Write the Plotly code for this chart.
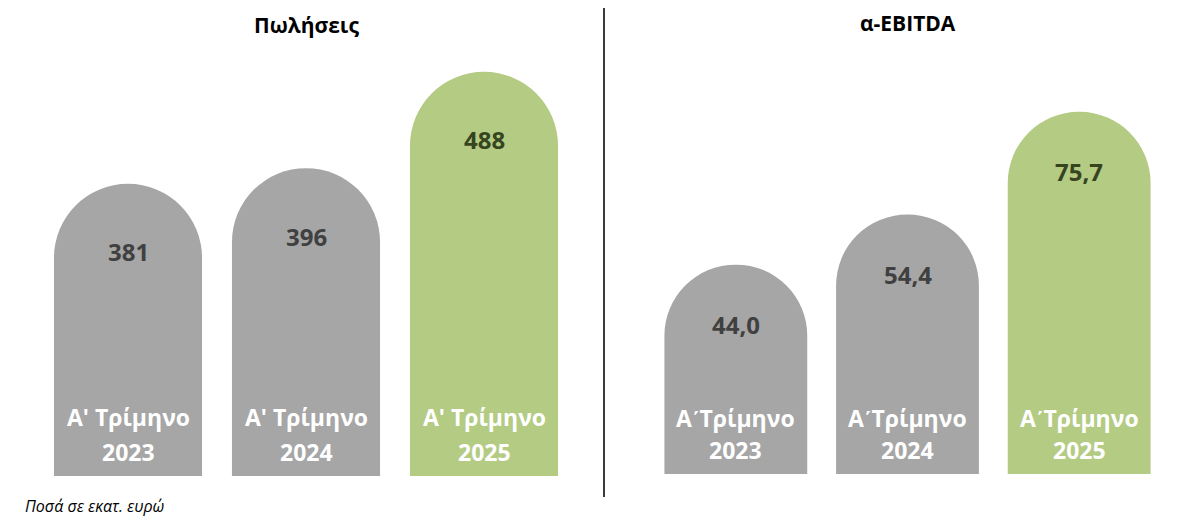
import plotly.graph_objects as go

# ---- data ----
years = ["2023", "2024", "2025"]
sales_quarter_label = "Α' Τρίμηνο"
ebitda_quarter_label = "Α\u0374Τρίμηνο"
sales = [381, 396, 488]
sales_text = ["381", "396", "488"]
ebitda = [44.0, 54.4, 75.7]
ebitda_text = ["44,0", "54,4", "75,7"]
titles = ["Πωλήσεις", "α-EBITDA"]
footnote = "Ποσά σε εκατ. ευρώ"

GRAY = "#A6A6A6"
GREEN = "#B4CB84"
bar_colors = [GRAY, GRAY, GREEN]
value_colors = ["#404040", "#404040", "#36441F"]
FONT = "Open Sans"

# page body has an 8px margin; lay out in window pixels
OFF = 8
W, H = 1184 - 2 * OFF, 524 - 2 * OFF


def px(xp):
    return (xp - OFF) / W


def py(yp):
    return 1 - (yp - OFF) / H


fig = go.Figure()
fig.add_trace(go.Bar(x=years, y=sales, marker=dict(color=bar_colors, cornerradius="50%", line=dict(width=0)),
                     xaxis="x", yaxis="y", hoverinfo="skip"))
fig.add_trace(go.Bar(x=years, y=ebitda, marker=dict(color=bar_colors, cornerradius="50%", line=dict(width=0)),
                     xaxis="x2", yaxis="y2", hoverinfo="skip"))

ann = []
panels = [("x", "y", sales, sales_text, sales_quarter_label, -68, 59, 24),
          ("x2", "y2", ebitda, ebitda_text, ebitda_quarter_label, -60, 56, 24)]
for xr, yr, vals, txts, qlab, vshift, l1, l2 in panels:
    for i, (yr_lab, v, t) in enumerate(zip(years, vals, txts)):
        ann.append(dict(x=i, y=v, xref=xr, yref=yr, text="<b>%s</b>" % t, showarrow=False,
                        yanchor="middle", yshift=vshift,
                        font=dict(family=FONT, size=24, color=value_colors[i])))
        ann.append(dict(x=i, y=0, xref=xr, yref=yr + " domain", text="<b>%s</b>" % qlab, showarrow=False,
                        yanchor="middle", yshift=l1,
                        font=dict(family=FONT, size=23, color="white")))
        ann.append(dict(x=i, y=0, xref=xr, yref=yr + " domain", text="<b>%s</b>" % yr_lab, showarrow=False,
                        yanchor="middle", yshift=l2,
                        font=dict(family=FONT, size=23, color="white")))

ann.append(dict(x=0.5, y=py(25), xref="x domain", yref="paper", text="<b>%s</b>" % titles[0],
                showarrow=False, yanchor="middle", font=dict(family=FONT, size=21, color="black")))
ann.append(dict(x=0.5, y=py(23), xref="x2 domain", yref="paper", text="<b>%s</b>" % titles[1],
                showarrow=False, yanchor="middle", font=dict(family=FONT, size=21, color="black")))
ann.append(dict(x=px(24), y=py(518), xref="paper", yref="paper", text="<i>%s</i>" % footnote,
                showarrow=False, xanchor="left", yanchor="bottom", borderpad=0,
                font=dict(family=FONT, size=16, color="black")))

fig.update_layout(
    width=W, height=H,
    margin=dict(l=0, r=0, t=0, b=0),
    paper_bgcolor="white", plot_bgcolor="white",
    showlegend=False,
    bargap=0.168,
    xaxis=dict(domain=[px(39), px(573)], visible=False, type="category", range=[-0.5, 2.5]),
    yaxis=dict(domain=[py(476), py(40)], range=[102, 518.4], visible=False),
    xaxis2=dict(domain=[px(650), px(1165)], visible=False, type="category", anchor="y2",
                range=[-0.5, 2.5]),
    yaxis2=dict(domain=[py(474), py(40)], range=[0.6, 90.6], visible=False, anchor="x2"),
    annotations=ann,
    shapes=[dict(type="line", xref="paper", yref="paper", x0=px(604), x1=px(604),
                 y0=py(497), y1=py(2), line=dict(color="#3A3A3A", width=2))],
)

fig.write_html("out.html")
